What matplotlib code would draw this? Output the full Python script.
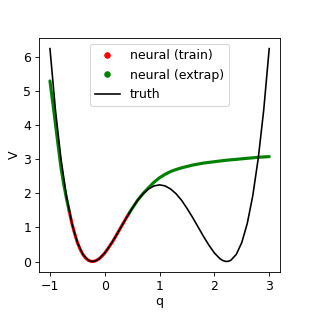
import matplotlib
matplotlib.use("Agg")
import matplotlib.pyplot as plt
from matplotlib.lines import Line2D

# truth potential
q_truth = [-1.0, -0.9, -0.8, -0.7, -0.6, -0.5, -0.4, -0.3, -0.25, -0.2, -0.15, -0.1, 0.0,
           0.1, 0.2, 0.3, 0.4, 0.5, 0.6, 0.7, 0.8, 0.9, 1.0, 1.1, 1.2, 1.3, 1.4, 1.5,
           1.6, 1.7, 1.8, 1.9, 2.0, 2.1, 2.15, 2.2, 2.25, 2.3, 2.4, 2.5, 2.6, 2.7, 2.8, 2.9, 3.0]
v_truth = [6.25, 4.45, 3.03, 1.93, 1.12, 0.56, 0.21, 0.036, 0.004, 0.004, 0.032, 0.084, 0.25,
           0.48, 0.74, 1.02, 1.30, 1.56, 1.80, 1.99, 2.13, 2.22, 2.25, 2.22, 2.13, 1.99, 1.80, 1.56,
           1.30, 1.02, 0.74, 0.48, 0.25, 0.084, 0.032, 0.004, 0.004, 0.036, 0.21, 0.56, 1.12, 1.93, 3.03, 4.45, 6.25]

# neural net on the training region
q_train = [-0.65, -0.6, -0.55, -0.5, -0.45, -0.4, -0.35, -0.3, -0.25, -0.2, -0.15, -0.1,
           -0.05, 0.0, 0.05, 0.1, 0.15, 0.2, 0.25, 0.3, 0.35, 0.4, 0.45]
v_train = [1.49, 1.12, 0.82, 0.56, 0.36, 0.21, 0.10, 0.036, 0.004, 0.004, 0.032, 0.084,
           0.16, 0.25, 0.36, 0.48, 0.60, 0.74, 0.88, 1.02, 1.16, 1.30, 1.43]

# neural net outside the training region
q_ext_left = [-1.0, -0.95, -0.9, -0.85, -0.8, -0.75, -0.7, -0.65]
v_ext_left = [5.30, 4.68, 4.04, 3.40, 2.77, 2.28, 1.86, 1.49]
q_ext_right = [0.45, 0.5, 0.6, 0.7, 0.8, 0.9, 1.0, 1.1, 1.2, 1.3, 1.4, 1.5, 1.6, 1.7,
               1.8, 1.9, 2.0, 2.2, 2.4, 2.6, 2.8, 3.0]
v_ext_right = [1.43, 1.56, 1.80, 2.00, 2.17, 2.33, 2.46, 2.56, 2.64, 2.70, 2.75, 2.79, 2.83, 2.86,
               2.89, 2.91, 2.93, 2.97, 3.00, 3.03, 3.06, 3.08]

plt.rcParams['font.size'] = 11.6

fig = plt.figure(figsize=(4, 4), dpi=78)
ax = fig.add_axes([0.125, 0.128, 0.773, 0.75])

ax.plot(q_train, v_train, color='red', lw=2.9, solid_capstyle='round')
ax.plot(q_ext_left, v_ext_left, color='green', lw=2.9, solid_capstyle='round')
ax.plot(q_ext_right, v_ext_right, color='green', lw=2.9, solid_capstyle='round')
ax.plot(q_truth, v_truth, color='black', lw=1.5)

handles = [Line2D([], [], ls='None', marker='o', ms=5, color='red'),
           Line2D([], [], ls='None', marker='o', ms=5, color='green'),
           Line2D([], [], color='black', lw=1.5)]
ax.legend(handles, ['neural (train)', 'neural (extrap)', 'truth'], loc='upper center')

ax.set_xlabel('q', labelpad=2)
ax.set_ylabel('V', labelpad=2)
ax.set_xticks([-1, 0, 1, 2, 3])
ax.set_xlim(-1.2, 3.2)
ax.set_ylim(-0.31, 6.56)

fig.savefig('out.png', dpi=78)
